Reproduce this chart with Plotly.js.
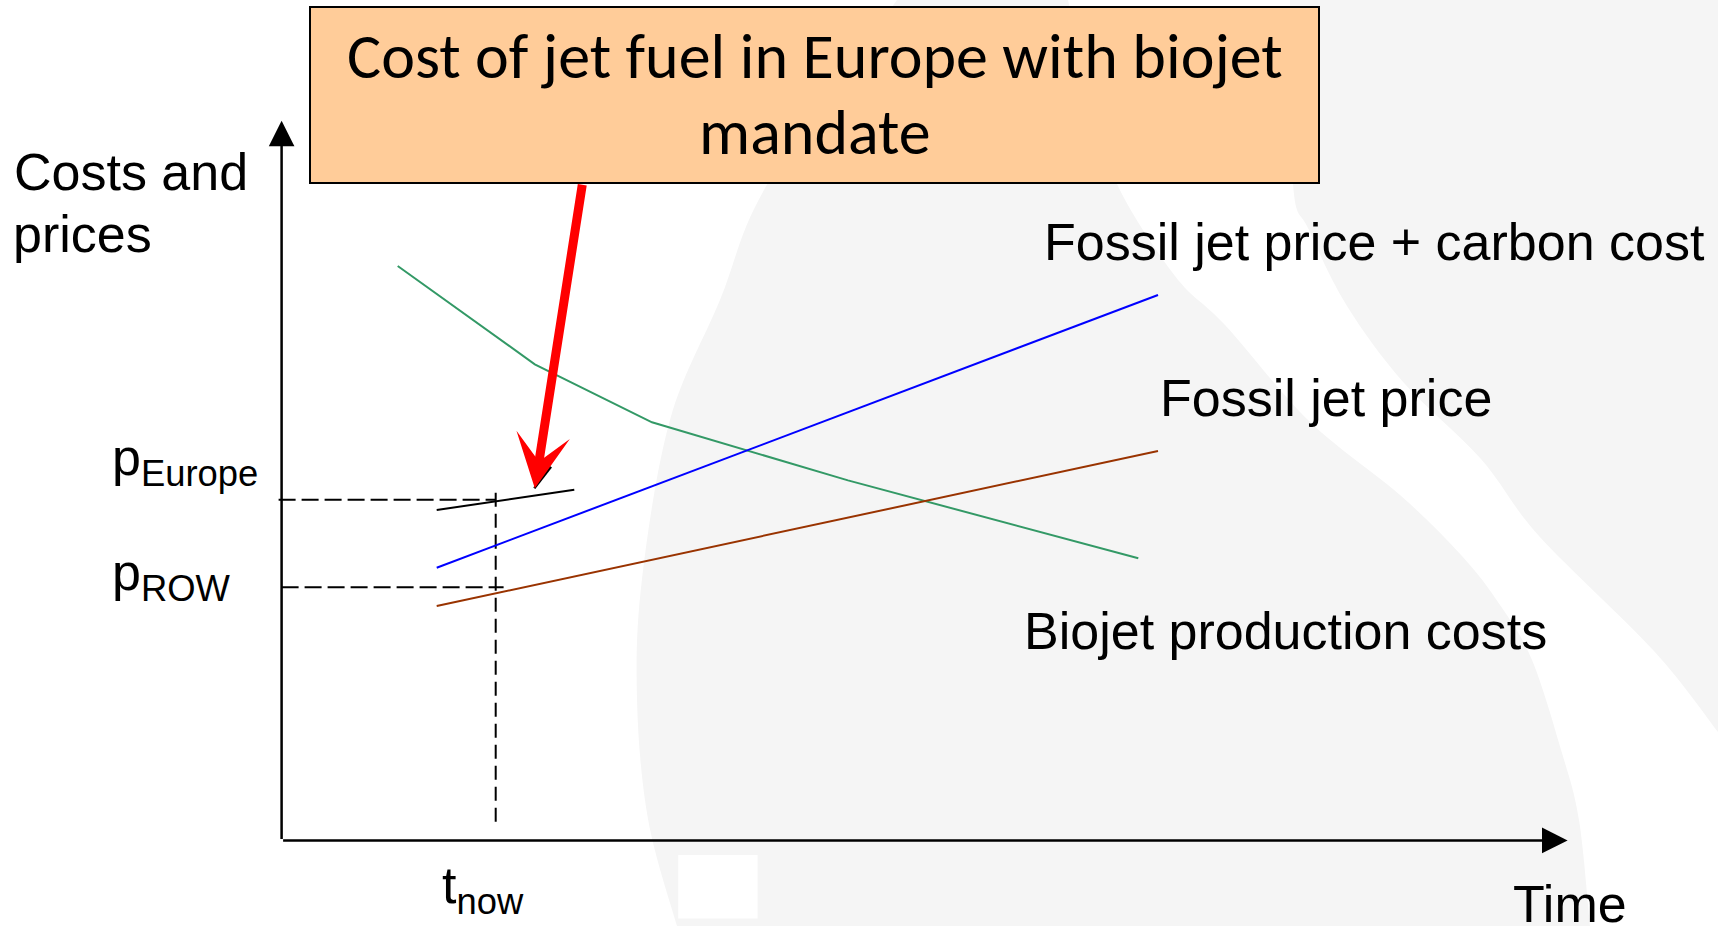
<!DOCTYPE html>
<html><head><meta charset="utf-8">
<script src="https://cdn.plot.ly/plotly-3.0.1.min.js"></script>
<style>html,body{margin:0;padding:0;background:#fff;overflow:hidden}#chart{width:1718px;height:926px}</style>
</head><body><div id="chart"></div>
<script>
// ---------- data (time / cost units) ----------
const fossilCarbonT = [1.551, 8.764];
const fossilCarbonC = [2.727, 5.454];
const fossilT = [1.551, 8.764];
const fossilC = [2.344, 3.894];
const biojetT = [1.161, 2.532, 3.704, 5.664, 8.567];
const biojetC = [5.744, 4.761, 4.181, 3.600, 2.821];
const europeT = [1.551, 2.927];
const europeC = [3.304, 3.507];
const tNow = 2.141;
const pEurope = 3.407;
const pROW = 2.531;
const guideEuropeT = [-0.03, 2.141];
const guideRowT = [0.0, 2.22];
const guideNowC = [0.187, 3.51];
const axisEndT = 12.86;
const axisEndC = 7.197;
const arrowTip = [2.532, 3.521];
const arrowTail = [3.009, 6.571];
const lineLabels = ['Fossil jet price + carbon cost', 'Fossil jet price', 'Biojet production costs'];
const yTitleLines = ['Costs and', 'prices'];
const xTitle = 'Time';
const tickLabels = ['p<sub>Europe</sub>', 'p<sub>ROW</sub>', 't<sub>now</sub>'];
const boxLines = ['Cost of jet fuel in Europe with biojet', 'mandate'];

// ---------- page geometry ----------
const W = 1718, H = 926;
const OX = 281.6, OY = 840.4, K = 100; // origin pixel & px per unit
const P = px => px / W;           // pixel -> paper x
const Q = py => 1 - py / H;       // pixel -> paper y

function smooth(pts) { // Catmull-Rom through pixel points -> paper path segment
  let d = '';
  for (let i = 0; i < pts.length - 1; i++) {
    const p0 = pts[Math.max(i - 1, 0)], p1 = pts[i], p2 = pts[i + 1], p3 = pts[Math.min(i + 2, pts.length - 1)];
    const c1 = [p1[0] + (p2[0] - p0[0]) / 6, p1[1] + (p2[1] - p0[1]) / 6];
    const c2 = [p2[0] - (p3[0] - p1[0]) / 6, p2[1] - (p3[1] - p1[1]) / 6];
    d += ` C${P(c1[0])},${Q(c1[1])} ${P(c2[0])},${Q(c2[1])} ${P(p2[0])},${Q(p2[1])}`;
  }
  return d;
}
const grayLeft = [[897,0],[768,183],[720,300],[670,420],[642,579],[637,699],[648,819],[677,926]];
const bandLeft = [[1068,0],[1090,95],[1117,184],[1175,276],[1225,325],[1309,421],[1400,495],[1462,556],[1500,605],[1532,660],[1562,753],[1579,820],[1590,926]];
const bandRight = [[1290,0],[1293,184],[1309,230],[1347,306],[1404,383],[1481,459],[1539,536],[1654,651],[1718,732]];
const bandLeftRev = bandLeft.slice().reverse();
const grayMain = `M${P(grayLeft[0][0])},${Q(0)}` + smooth(grayLeft) +
  ` L${P(1590)},${Q(926)}` + smooth(bandLeftRev) + ' Z';
const grayRight = `M${P(bandRight[0][0])},${Q(0)}` + smooth(bandRight) + ` L${P(1718)},${Q(0)} Z`;

const lineTrace = (x, y, color, width, dash) => ({
  type: 'scatter', mode: 'lines', x, y, hoverinfo: 'skip', showlegend: false,
  line: { color, width, dash: dash || 'solid' }
});
const traces = [
  lineTrace(guideEuropeT, [pEurope, pEurope], '#000', 2, '17px,6px'),
  lineTrace(guideRowT, [pROW, pROW], '#000', 2, '17px,6px'),
  lineTrace([tNow, tNow], guideNowC, '#000', 2, '14px,7px'),
  lineTrace(biojetT, biojetC, '#339966', 2),
  lineTrace(fossilCarbonT, fossilCarbonC, '#0000FF', 2),
  lineTrace(fossilT, fossilC, '#993300', 2),
  lineTrace(europeT, europeC, '#000000', 2)
];

const AF = { family: '"Liberation Sans", Arial, Helvetica, sans-serif', size: 52, color: '#000' };
const BF = { family: 'Carlito, Lato, "Open Sans", sans-serif', size: 64, color: '#000' };
const txt = (text, xpx, topPx, extra) => Object.assign({
  text, xref: 'paper', yref: 'paper', x: P(xpx), y: Q(topPx), xanchor: 'left', yanchor: 'top',
  showarrow: false, font: AF, borderpad: 0, borderwidth: 0, align: 'left'
}, extra || {});
const boxTxt = (text, topPx) => txt(text, 814.8, topPx, { xanchor: 'center', align: 'center', font: BF });

const annotations = [
  txt(yTitleLines[0], 13.5, 142.9),
  txt(yTitleLines[1], 13, 204.6),
  txt(tickLabels[0], 112, 428.2),
  txt(tickLabels[1], 112, 543.4),
  txt(tickLabels[2], 442, 856.2),
  txt(xTitle, 1513, 874.6),
  txt(lineLabels[0], 1044, 212.9),
  txt(lineLabels[1], 1160, 368.9),
  txt(lineLabels[2], 1023.5, 602.2),
  boxTxt(boxLines[0], 16.9),
  boxTxt(boxLines[1], 92.6),
  // axes arrows
  { text: '', x: 0, y: axisEndC, xref: 'x', yref: 'y', ax: 0, ay: 0, axref: 'x', ayref: 'y',
    showarrow: true, arrowhead: 2, arrowsize: 2.05, arrowwidth: 2.5, arrowcolor: '#000', standoff: 0 },
  { text: '', x: axisEndT, y: 0, xref: 'x', yref: 'y', ax: 0, ay: 0, axref: 'x', ayref: 'y',
    showarrow: true, arrowhead: 2, arrowsize: 2.05, arrowwidth: 2.5, arrowcolor: '#000', standoff: 0 },
  // red call-out arrow
  { text: '', x: arrowTip[0], y: arrowTip[1], xref: 'x', yref: 'y', ax: arrowTail[0], ay: arrowTail[1],
    axref: 'x', ayref: 'y', showarrow: true, arrowhead: 3, arrowsize: 1.0, arrowwidth: 9,
    arrowcolor: '#FF0000', standoff: 0 }
];

const shapes = [
  { type: 'path', xref: 'paper', yref: 'paper', path: grayMain, fillcolor: '#F5F5F5', line: { width: 0 }, layer: 'below' },
  { type: 'path', xref: 'paper', yref: 'paper', path: grayRight, fillcolor: '#F5F5F5', line: { width: 0 }, layer: 'below' },
  { type: 'rect', xref: 'paper', yref: 'paper', x0: P(678.2), x1: P(757.6), y0: Q(918.6), y1: Q(855),
    fillcolor: '#FFFFFF', line: { width: 0 }, layer: 'below' },
  { type: 'rect', xref: 'paper', yref: 'paper', x0: P(310), x1: P(1319), y0: Q(183), y1: Q(7),
    fillcolor: '#FFCC99', line: { color: '#000', width: 2 }, layer: 'above' },
  { type: 'line', xref: 'paper', yref: 'paper', x0: P(534.3), y0: Q(488.3), x1: P(551), y1: Q(466.7),
    line: { color: '#000', width: 2.5 }, layer: 'above' }
];

const layout = {
  width: W, height: H, margin: { l: 0, r: 0, t: 0, b: 0 },
  paper_bgcolor: '#FFFFFF', plot_bgcolor: 'rgba(0,0,0,0)',
  xaxis: { visible: false, range: [-OX / K, (W - OX) / K], fixedrange: true },
  yaxis: { visible: false, range: [(OY - H) / K, OY / K], fixedrange: true },
  showlegend: false, annotations, shapes
};
Plotly.newPlot('chart', traces, layout, { staticPlot: true, displayModeBar: false });
</script></body></html>
